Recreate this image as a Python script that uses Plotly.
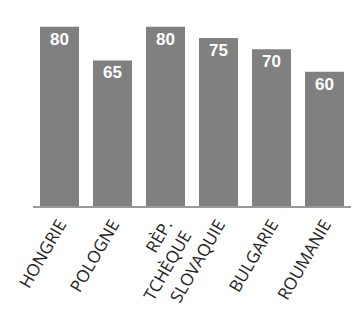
import plotly.graph_objects as go

# Countries and their scores
pays = ["HONGRIE", "POLOGNE", "RÈP.<br>TCHÈQUE", "SLOVAQUIE", "BULGARIE", "ROUMANIE"]
scores = [80, 65, 80, 75, 70, 60]

fig = go.Figure(
    go.Bar(
        x=pays,
        y=scores,
        marker=dict(color="#808080", line=dict(width=0)),
        text=scores,
        textposition="inside",
        insidetextanchor="end",
        textangle=0,
        textfont=dict(family="Liberation Sans, Arial, sans-serif", size=17, color="white", weight="bold"),
        cliponaxis=False,
    )
)

fig.update_layout(
    width=352,
    height=325,
    margin=dict(l=33, r=1, t=0, b=119),
    paper_bgcolor="white",
    plot_bgcolor="white",
    bargap=0.264,
    showlegend=False,
    uniformtext=dict(minsize=17, mode="show"),
)

fig.update_xaxes(
    tickangle=-60,
    tickfont=dict(family="Open Sans, Noto Sans, sans-serif", size=17, color="#222222"),
    showline=True,
    linecolor="#999999",
    linewidth=2,
    ticks="",
    showgrid=False,
)
fig.update_yaxes(
    range=[0, 92],
    visible=False,
    showgrid=False,
    zeroline=False,
)

fig.write_html("out.html")
